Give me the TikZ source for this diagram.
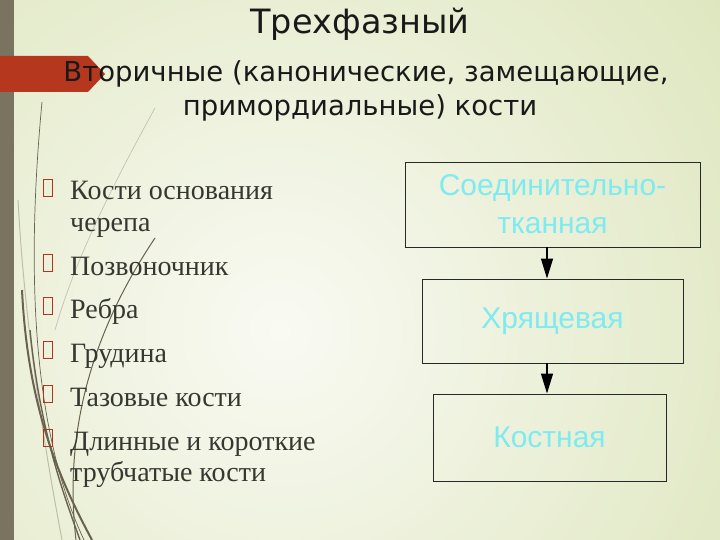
\documentclass[tikz,border=0pt]{standalone}
\usepackage{fontspec}
\setmainfont{Liberation Serif}
\newfontfamily\titlefont{DejaVu Sans}
\newfontfamily\boxfont{Liberation Sans}
\usetikzlibrary{arrows.meta}
\definecolor{bgIn}{RGB}{249,250,243}
\definecolor{bgOut}{RGB}{222,230,190}
\definecolor{barcol}{RGB}{122,115,95}
\definecolor{bannercol}{RGB}{181,56,30}
\definecolor{grass}{RGB}{105,98,78}
\definecolor{grasslight}{RGB}{190,190,170}
\definecolor{bulletred}{RGB}{176,52,32}
\definecolor{bodytext}{RGB}{55,55,50}
\definecolor{cyantext}{RGB}{125,235,240}
\definecolor{boxline}{RGB}{40,40,40}
\tikzset{
  stagebox/.style={draw=boxline, line width=0.9pt, align=center, inner sep=0pt,
    font=\boxfont\fontsize{30pt}{38pt}\selectfont, text=cyantext},
  bulletbox/.style={rectangle, draw=bulletred, line width=1.4pt, minimum width=9pt, minimum height=17pt, inner sep=0pt, outer sep=0pt},
  itemtext/.style={anchor=base west, inner sep=0pt, text=bodytext, align=left,
    font=\fontsize{28pt}{31pt}\selectfont},
  flowarrow/.style={line width=1.3pt, -{Triangle[width=12pt,length=20pt]}},
  grassline/.style={draw=grass, line cap=round}
}
\begin{document}
\begin{tikzpicture}[x=1pt,y=-1pt]
\useasboundingbox (0,0) rectangle (720,540);
% background
\begin{scope}
\clip (0,0) rectangle (720,540);
\fill[bgOut] (0,0) rectangle (720,540);
\shade[inner color=bgIn, outer color=bgOut] (280,330) circle (560);
\end{scope}
% grass strokes
\draw[grasslight, line width=0.6pt] (155,108) .. controls (110,190) and (75,260) .. (55,330);
\draw[grasslight, line width=1pt] (18,200) .. controls (25,330) and (45,450) .. (62,540);
\draw[grass, line width=0.7pt] (42,102) .. controls (28,250) and (28,420) .. (84,540);
\draw[grass, line width=2pt] (22,290) .. controls (28,410) and (60,480) .. (92,540);
\draw[grass, line width=1.4pt] (30,330) .. controls (40,430) and (62,490) .. (80,540);
\draw[grass, line width=1pt] (155,238) .. controls (100,320) and (62,420) .. (76,540);
% left bar and banner
\fill[barcol] (0,0) rectangle (14,540);
\fill[bannercol] (0,56) -- (88,56) -- (105,74) -- (88,92) -- (0,92) -- cycle;
% titles
\node[anchor=base, inner sep=0pt, font=\titlefont\fontsize{33.5pt}{38pt}\selectfont, text=black!90] (title) at (360,34) {Трехфазный};
\node[anchor=base, inner sep=0pt, font=\titlefont\fontsize{27.5pt}{32pt}\selectfont, text=black!90] (sub1) at (366,82) {Вторичные (канонические, замещающие,};
\node[anchor=base, inner sep=0pt, font=\titlefont\fontsize{27.5pt}{32pt}\selectfont, text=black!90] (sub2) at (360,116) {примордиальные) кости};
% bullet list
\node[itemtext] (t1) at (70,200) {Кости основания};
\node[itemtext] (t1b) at (70,231) {черепа};
\node[itemtext] (t2) at (70,275) {Позвоночник};
\node[itemtext] (t3) at (70,318) {Ребра};
\node[itemtext] (t4) at (70,362) {Грудина};
\node[itemtext] (t5) at (70,406) {Тазовые кости};
\node[itemtext] (t6) at (70,450) {Длинные и короткие};
\node[itemtext] (t6b) at (70,481) {трубчатые кости};
\foreach \yy/\nm in {188/b1,263/b2,306/b3,350/b4,394/b5,438/b6}{
  \node[bulletbox] (\nm) at (48,\yy) {};
}
% flow boxes
\node[stagebox, minimum width=295pt, minimum height=85pt] (s1) at (552.5,204.5) {Соединительно-\\тканная};
\node[stagebox, minimum width=261pt, minimum height=84pt] (s2) at (552.5,321) {Хрящевая};
\node[stagebox, minimum width=233pt, minimum height=87pt] (s3) at (549.5,437.5) {Костная};
\coordinate (ax) at (547,0);
\draw[flowarrow] (s1.south -| ax) -- (s2.north -| ax);
\draw[flowarrow] (s2.south -| ax) -- (s3.north -| ax);
\end{tikzpicture}
\end{document}
